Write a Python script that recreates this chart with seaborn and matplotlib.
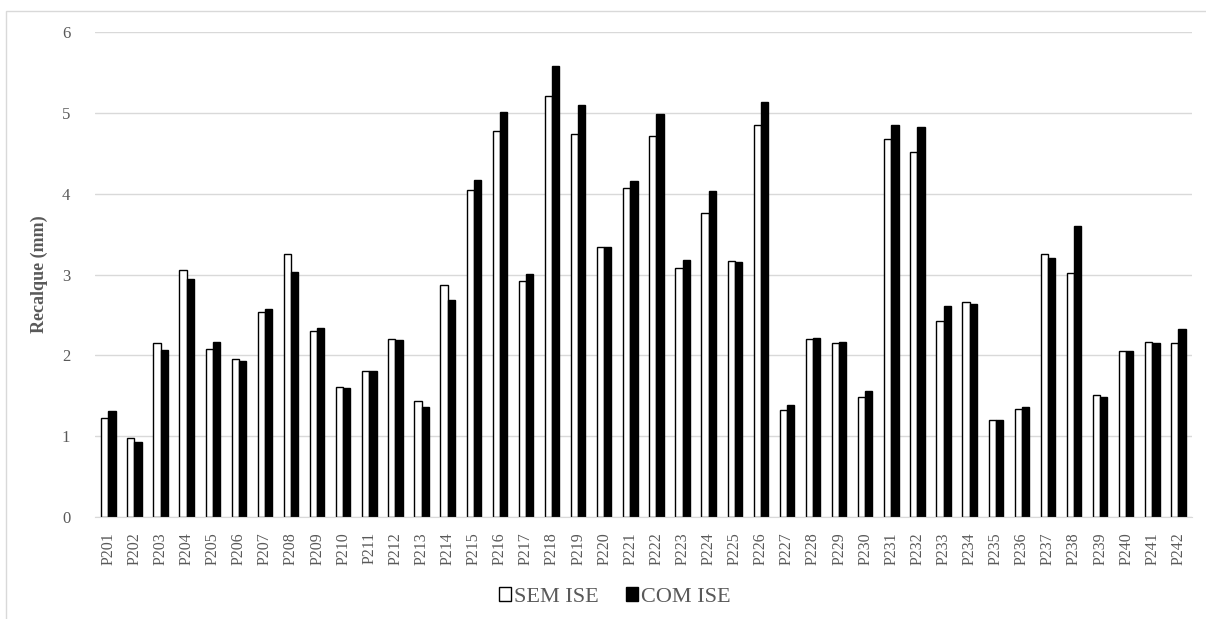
import matplotlib
matplotlib.use("Agg")
import matplotlib.pyplot as plt
import pandas as pd
import seaborn as sns
from matplotlib.patches import Rectangle

# valores (recalque em mm)
pilares = [f"P2{i:02d}" for i in range(1, 43)]
sem_ise = [1.23, 0.98, 2.15, 3.06, 2.08, 1.96, 2.54, 3.25, 2.30, 1.61,
           1.80, 2.20, 1.44, 2.87, 4.05, 4.78, 2.92, 5.21, 4.74, 3.34,
           4.07, 4.71, 3.08, 3.76, 3.17, 4.85, 1.32, 2.20, 2.15, 1.49,
           4.68, 4.52, 2.43, 2.66, 1.20, 1.34, 3.25, 3.02, 1.51, 2.05,
           2.17, 2.15]
com_ise = [1.31, 0.93, 2.07, 2.94, 2.17, 1.93, 2.57, 3.03, 2.34, 1.60,
           1.80, 2.19, 1.36, 2.68, 4.17, 5.01, 3.01, 5.58, 5.10, 3.34,
           4.16, 4.99, 3.18, 4.04, 3.15, 5.13, 1.39, 2.22, 2.17, 1.56,
           4.85, 4.83, 2.61, 2.63, 1.20, 1.36, 3.20, 3.60, 1.49, 2.05,
           2.15, 2.33]
series = ["SEM ISE", "COM ISE"]

df = pd.DataFrame({
    "Pilar": pilares * 2,
    "Recalque": sem_ise + com_ise,
    "Serie": [series[0]] * len(pilares) + [series[1]] * len(pilares),
})

sns.set_style("white")
plt.rcParams['font.family'] = ['Liberation Serif', 'DejaVu Serif']
grey = "#595959"

fig = plt.figure(figsize=(12.06, 6.19), dpi=100)
ax = fig.add_axes([0.079, 0.165, 0.909, 0.783])

sns.barplot(data=df, x="Pilar", y="Recalque", hue="Serie", hue_order=series,
            palette={"SEM ISE": "white", "COM ISE": "black"},
            edgecolor="black", linewidth=1.0, width=0.55, ax=ax)

ax.set_ylim(0, 6)
ax.set_xlim(-0.5, len(pilares) - 0.5)
ax.set_yticks(range(0, 7))
ax.yaxis.grid(True, color="#d9d9d9", linewidth=1)
ax.set_axisbelow(True)
for s in ["top", "right", "left"]:
    ax.spines[s].set_visible(False)
ax.spines["bottom"].set_color("#d9d9d9")
ax.tick_params(axis="both", length=0, colors=grey)
ax.tick_params(axis="x", labelrotation=90, labelsize=11.5, pad=11)
ax.tick_params(axis="y", labelsize=12, pad=18)
ax.set_xlabel("")
ax.set_ylabel("Recalque (mm)", fontsize=13, fontweight="bold", color=grey,
              labelpad=10)

ax.get_legend().remove()
handles, labels = ax.get_legend_handles_labels()
leg = fig.legend(handles, labels, loc="center",
                 bbox_to_anchor=(615 / 1206, 1 - 597 / 619), ncol=2,
                 frameon=False, fontsize=16, handlelength=0.55,
                 handleheight=0.55, handletextpad=0.15, columnspacing=1.2)
for t in leg.get_texts():
    t.set_color(grey)

# moldura do grafico
fig.patches.append(Rectangle((6 / 1206, -0.01), 1.0, 1.01 - 11 / 619,
                             transform=fig.transFigure, fill=False,
                             edgecolor="#d9d9d9", linewidth=1))

fig.savefig("out.png", dpi=100)
